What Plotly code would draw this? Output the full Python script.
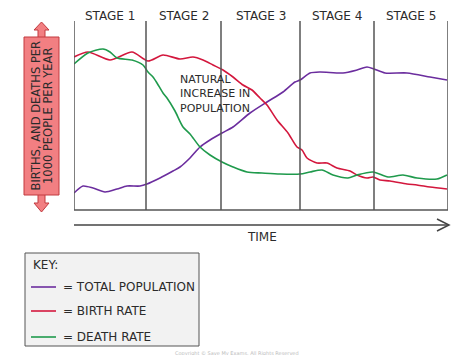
import plotly.graph_objects as go

# ---- data (arbitrary units: time along x, rate/population along y) ----
stage_labels = ["STAGE 1", "STAGE 2", "STAGE 3", "STAGE 4", "STAGE 5"]
stage_bounds = [0, 72, 147, 226, 300, 374]

birth_t = [0, 14, 36, 58, 74, 89, 106, 119, 129, 139, 149, 159, 169, 178, 186, 193, 203, 214, 223, 228,
           233, 243, 253, 263, 276, 283, 293, 299, 306, 316, 333, 343, 356, 373]
birth_v = [153, 158, 150, 158, 149, 155, 151, 153, 150, 145, 140, 133, 125, 120, 112, 105, 90, 77, 63, 60,
           52, 47, 47, 42, 39, 35, 32, 33, 30, 29, 26, 25, 23, 21]

death_t = [0, 14, 29, 36, 43, 58, 69, 74, 79, 83, 89, 93, 101, 109, 116, 126, 136, 148, 159, 173, 188,
           206, 226, 236, 248, 259, 274, 283, 299, 314, 329, 343, 363, 373]
death_v = [146, 157, 161, 158, 152, 150, 145, 138, 133, 127, 117, 112, 99, 83, 76, 63, 55, 48, 43, 38, 37,
           36, 36, 38, 40, 35, 32, 35, 38, 33, 35, 32, 31, 35]

pop_t = [0, 9, 19, 31, 43, 53, 66, 73, 86, 99, 106, 116, 126, 136, 148, 159, 176, 193, 209, 221, 226,
         236, 246, 269, 283, 293, 300, 311, 333, 356, 373]
pop_v = [17, 24, 22, 18, 21, 24, 24, 26, 32, 39, 43, 52, 63, 70, 77, 83, 97, 108, 118, 128, 130,
         137, 138, 137, 140, 143, 141, 137, 137, 133, 130]

key_labels = ["= TOTAL POPULATION", "= BIRTH RATE", "= DEATH RATE"]
y_label_lines = ["BIRTHS, AND DEATHS PER", "1000 PEOPLE PER YEAR"]
annot_text = "NATURAL<br>INCREASE IN<br>POPULATION"

# ---- styling / geometry (page pixels; page body has an 8px margin) ----
W, H = 474, 363
OFF = 8
FW, FH = W - 2 * OFF, H - 2 * OFF
L, R, T, B = 74, 448, 21, 210
PURPLE, RED, GREEN = "#6b2d9e", "#d3173d", "#1f9a4c"
FONT = "DejaVu Sans"
TXT = "#2b2b2b"


def px(x):
    return (x - L) / (R - L)


def py(y):
    return (B - y) / (B - T)


fig = go.Figure()
for t, v, c, n in [(pop_t, pop_v, PURPLE, "Total population"),
                   (birth_t, birth_v, RED, "Birth rate"),
                   (death_t, death_v, GREEN, "Death rate")]:
    fig.add_trace(go.Scatter(x=t, y=v, mode="lines", name=n,
                             line=dict(color=c, width=1.6, shape="spline", smoothing=0.7),
                             hoverinfo="skip"))

shapes = []
for b in stage_bounds:
    shapes.append(dict(type="line", xref="x", yref="paper", x0=b, x1=b, y0=0, y1=1,
                       line=dict(color="#555555", width=1.5)))
shapes.append(dict(type="line", xref="x", yref="paper", x0=stage_bounds[0], x1=stage_bounds[-1],
                   y0=0, y1=0, line=dict(color="#555555", width=1.5)))
# time arrow
shapes.append(dict(type="line", xref="paper", yref="paper", x0=px(74), x1=px(449), y0=py(225), y1=py(225),
                   line=dict(color="#444444", width=1.5)))
shapes.append(dict(type="path", xref="paper", yref="paper",
                   path=f"M {px(437)} {py(219)} L {px(449)} {py(225)} L {px(437)} {py(231)}",
                   line=dict(color="#444444", width=1.5)))
# y label box with double arrow
PINK, DRED = "#f27f82", "#c23a3f"
cx = 41.5
arrow = (f"M {px(cx)} {py(22)} L {px(34)} {py(30)} L {px(38)} {py(30)} L {px(38)} {py(38)} "
         f"L {px(45)} {py(38)} L {px(45)} {py(30)} L {px(49)} {py(30)} Z")
arrow2 = (f"M {px(cx)} {py(212)} L {px(34)} {py(203)} L {px(38)} {py(203)} L {px(38)} {py(194)} "
          f"L {px(45)} {py(194)} L {px(45)} {py(203)} L {px(49)} {py(203)} Z")
shapes.append(dict(type="path", xref="paper", yref="paper", path=arrow, fillcolor=PINK,
                   line=dict(color=DRED, width=1)))
shapes.append(dict(type="path", xref="paper", yref="paper", path=arrow2, fillcolor=PINK,
                   line=dict(color=DRED, width=1)))
shapes.append(dict(type="rect", xref="paper", yref="paper", x0=px(24), x1=px(59), y0=py(37), y1=py(195),
                   fillcolor=PINK, line=dict(color=DRED, width=1)))
# key box
shapes.append(dict(type="rect", xref="paper", yref="paper", x0=px(25), x1=px(199), y0=py(253), y1=py(346),
                   fillcolor="#f2f2f2", line=dict(color="#555555", width=1)))
key_y = [287, 311, 337]
for yy, c in zip(key_y, [PURPLE, RED, GREEN]):
    shapes.append(dict(type="line", xref="paper", yref="paper", x0=px(31), x1=px(56), y0=py(yy), y1=py(yy),
                       line=dict(color=c, width=1.6)))


def ann(x, y, text, size, xanchor="center", xref="paper", **kw):
    return dict(x=x, y=py(y), xref=xref, yref="paper", text=text, showarrow=False,
                xanchor=xanchor, yanchor="middle", font=dict(family=FONT, size=size, color=kw.pop("color", TXT)),
                **kw)


annotations = []
for i, s in enumerate(stage_labels):
    annotations.append(ann((stage_bounds[i] + stage_bounds[i + 1]) / 2, 16, s, 12, xref="x"))
annotations.append(ann(px(178), 94, annot_text, 11, xanchor="left", align="left"))
annotations.append(ann(px(262), 237, "TIME", 12))
for xx, s in zip([35.5, 48], y_label_lines):
    annotations.append(ann(px(xx), 116, s, 11.5, textangle=-90))
annotations.append(ann(px(31), 265, "KEY:", 12, xanchor="left"))
for yy, s in zip(key_y, key_labels):
    annotations.append(ann(px(61), yy, s, 12, xanchor="left"))
annotations.append(ann(px(237), 353, "Copyright © Save My Exams. All Rights Reserved", 5, color="#bbbbbb"))

fig.update_layout(
    width=FW, height=FH,
    margin=dict(l=L - OFF, r=FW - (R - OFF), t=T - OFF, b=FH - (B - OFF), pad=0),
    paper_bgcolor="white", plot_bgcolor="white",
    showlegend=False,
    shapes=shapes, annotations=annotations,
    xaxis=dict(range=[0, 374], visible=False, fixedrange=True),
    yaxis=dict(range=[0, 189], visible=False, fixedrange=True),
)
fig.write_html("out.html", config={"displayModeBar": False})
